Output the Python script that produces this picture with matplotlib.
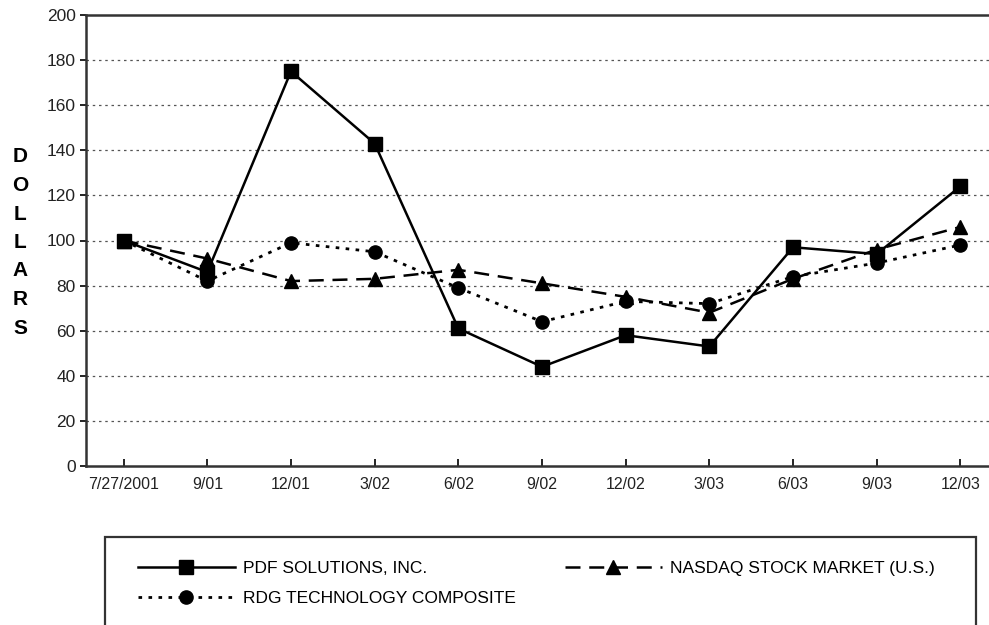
import matplotlib.pyplot as plt
from matplotlib.patches import Rectangle
import numpy as np

plt.rcParams['font.family'] = ['Liberation Sans', 'DejaVu Sans']

dates = ["7/27/2001", "9/01", "12/01", "3/02", "6/02", "9/02",
         "12/02", "3/03", "6/03", "9/03", "12/03"]
pdf_vals = [100, 86, 175, 143, 61, 44, 58, 53, 97, 94, 124]
nasdaq_vals = [100, 92, 82, 83, 87, 81, 75, 68, 83, 96, 106]
rdg_vals = [100, 82, 99, 95, 79, 64, 73, 72, 84, 90, 98]
names = ["PDF SOLUTIONS, INC.", "RDG TECHNOLOGY COMPOSITE",
         "NASDAQ STOCK MARKET (U.S.)"]

fig = plt.figure(figsize=(9.89, 6.25), dpi=100)
# axes runs a bit past the right edge, like the scan
ax = fig.add_axes([86/989, 1-466/625, 912/989, 451/625])

x = np.arange(len(dates))
l1, = ax.plot(x, pdf_vals, color="black", lw=1.8, marker="s", ms=10.5,
              label=names[0])
l3, = ax.plot(x, nasdaq_vals, color="black", lw=1.8, marker="^", ms=9.5,
              dashes=(6, 3.5), label=names[2])
l2, = ax.plot(x, rdg_vals, color="black", lw=2, marker="o", ms=9.5,
              dashes=(1.3, 2.3), label=names[1])

ax.set_xlim(-0.45, 10.45)
ax.set_ylim(0, 200)
ax.set_yticks(range(0, 201, 20))
ax.set_xticks(x)
ax.set_xticklabels(dates)
ax.tick_params(axis="x", direction="in", length=5, width=1.2, pad=8,
               labelsize=11.5, labelcolor="#222222")
ax.tick_params(axis="y", direction="out", length=4, width=1.2, labelsize=12.5,
               labelcolor="#222222")
for t in ax.get_yticks()[1:-1]:
    ax.axhline(t, color="#555555", lw=0.9, ls=(0, (2, 3)), zorder=0)
for s in ["left", "bottom", "top"]:
    ax.spines[s].set_linewidth(1.8)
    ax.spines[s].set_color("#333333")
ax.spines["right"].set_visible(False)

# stacked axis label
for i, ch in enumerate("DOLLARS"):
    fig.text(20/989, 1-(157 + i*28.5)/625, ch, fontsize=15, fontweight="bold",
             ha="center", va="center")

# legend box, bottom edge runs off the page
fig.patches.append(Rectangle((105/989, -0.05), 871/989, 0.05 + 1-537/625,
                             transform=fig.transFigure, fill=False,
                             edgecolor="#333333", lw=1.6))
leg_kw = dict(loc="upper left", frameon=False, numpoints=1, borderpad=0,
              handlelength=5.6, handletextpad=0.45, labelspacing=0.85,
              fontsize=12.5)
fig.legend([l1, l2], names[:2], bbox_to_anchor=(129/989, 1-552/625), **leg_kw)
fig.legend([l3], names[2:], bbox_to_anchor=(556/989, 1-552/625), **leg_kw)

fig.savefig("out.png", dpi=100)
